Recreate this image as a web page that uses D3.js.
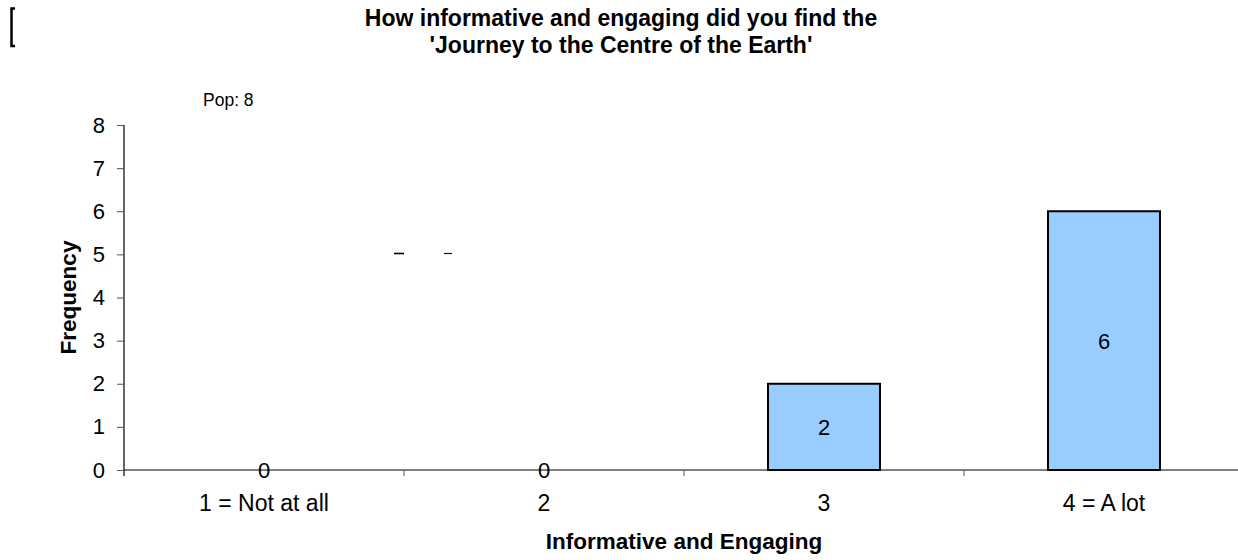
<!DOCTYPE html>
<html>
<head>
<meta charset="utf-8">
<script src="https://cdn.jsdelivr.net/npm/d3@7/dist/d3.min.js"></script>
<style>
  html, body { margin: 0; padding: 0; background: #fff; }
  svg { display: block; font-family: Arial, "Liberation Sans", sans-serif; }
</style>
</head>
<body>
<svg id="chart" width="1238" height="560"></svg>
<script>
// Survey responses: rating category and how many chose it
const categories = ["1 = Not at all", "2", "3", "4 = A lot"];
const frequencies = [0, 0, 2, 6];
const yTicks = [0, 1, 2, 3, 4, 5, 6, 7, 8];
const titleLines = ["How informative and engaging did you find the", "'Journey to the Centre of the Earth'"];
const popLabel = "Pop: 8";

const svg = d3.select("#chart");
const plot = { left: 124, right: 1244, top: 125, bottom: 470 };

const x = d3.scaleBand()
  .domain(categories)
  .range([plot.left, plot.right])
  .paddingInner(0.6)
  .paddingOuter(0.3);

const y = d3.scaleLinear()
  .domain([0, 8])
  .range([plot.bottom, plot.top]);

// Title
svg.append("text")
  .attr("text-anchor", "middle")
  .attr("font-weight", "bold").attr("font-size", 23)
  .selectAll("tspan").data(titleLines).join("tspan")
  .attr("x", 621).attr("y", (d, i) => 26 + i * 27)
  .text(d => d);

// Bracket mark in the corner
svg.append("path")
  .attr("d", "M15,8.5 H11.5 V46 H15")
  .attr("fill", "none").attr("stroke", "#000").attr("stroke-width", 2.5);

// Population note
svg.append("text")
  .attr("x", 203).attr("y", 106)
  .attr("font-size", 17.5)
  .text(popLabel);

// Bars
const step = x.step();
svg.append("g").selectAll("rect")
  .data(categories.map((c, i) => ({ c, v: frequencies[i] })).filter(d => d.v > 0))
  .join("rect")
  .attr("x", d => x(d.c))
  .attr("y", d => y(d.v))
  .attr("width", x.bandwidth())
  .attr("height", d => y(0) - y(d.v))
  .attr("fill", "#99CCFF")
  .attr("stroke", "#000")
  .attr("stroke-width", 2);

// Y axis
const yAxis = svg.append("g")
  .attr("transform", `translate(${plot.left},0)`)
  .call(d3.axisLeft(y).tickValues(yTicks).tickFormat(d3.format("d")).tickSize(7).tickPadding(12));
yAxis.select(".domain").attr("stroke", "#000").attr("stroke-width", 1.2)
  .attr("d", `M0,${plot.top}V${plot.bottom + 6}`);
yAxis.selectAll(".tick line").attr("stroke", "#555");
yAxis.selectAll(".tick text").attr("font-size", 22).attr("font-family", "Arial, 'Liberation Sans', sans-serif").attr("fill", "#000");

// X axis line and category-boundary ticks
const xAxis = svg.append("g")
  .attr("transform", `translate(0,${plot.bottom})`)
  .call(d3.axisBottom(x).tickSize(0).tickPadding(25));
xAxis.select(".domain").attr("stroke", "#000").attr("stroke-width", 1.2)
  .attr("d", `M${plot.left},0H${plot.right}`);
xAxis.selectAll(".tick text").attr("font-size", 23).attr("font-family", "Arial, 'Liberation Sans', sans-serif").attr("fill", "#000");
const boundaries = categories.slice(0, -1).map(c => x(c) + x.bandwidth() + step * x.paddingInner() / 2);
xAxis.selectAll(".bound").data(boundaries).join("line")
  .attr("class", "bound")
  .attr("x1", d => d).attr("x2", d => d)
  .attr("y1", 0).attr("y2", 6)
  .attr("stroke", "#555");

// Value labels
svg.append("g").selectAll("text")
  .data(categories.map((c, i) => ({ c, v: frequencies[i] })))
  .join("text")
  .attr("x", d => x(d.c) + x.bandwidth() / 2)
  .attr("y", d => (y(d.v) + y(0)) / 2)
  .attr("dy", "0.36em")
  .attr("text-anchor", "middle")
  .attr("font-size", 22)
  .text(d => d.v);

// Axis titles
svg.append("text")
  .attr("x", 684).attr("y", 549)
  .attr("text-anchor", "middle")
  .attr("font-weight", "bold").attr("font-size", 22.5)
  .text("Informative and Engaging");

svg.append("text")
  .attr("transform", `translate(76,${(plot.top + plot.bottom) / 2}) rotate(-90)`)
  .attr("text-anchor", "middle")
  .attr("font-weight", "bold").attr("font-size", 22.5)
  .text("Frequency");

// Small stray dashes in the plot area
svg.append("g").selectAll("line")
  .data([[394, 404, 1.6], [444, 452, 1.1]])
  .join("line")
  .attr("x1", d => d[0]).attr("x2", d => d[1])
  .attr("y1", 253.5).attr("y2", 253.5)
  .attr("stroke", "#000").attr("stroke-width", d => d[2]);
</script>
</body>
</html>
